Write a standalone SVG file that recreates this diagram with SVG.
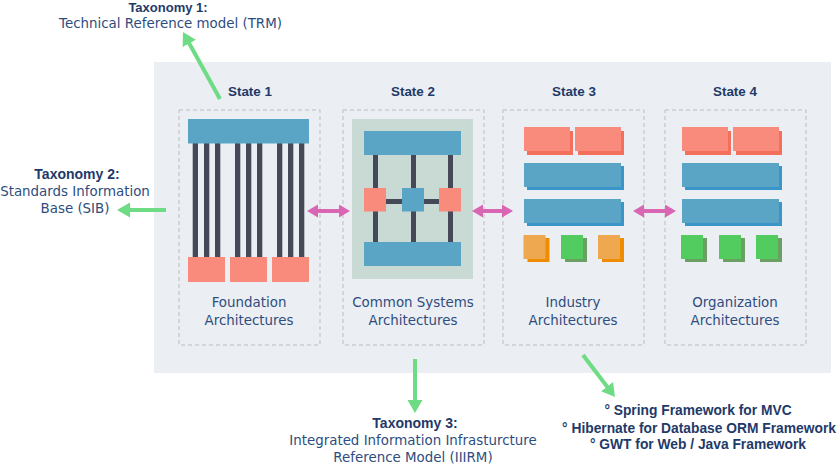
<svg xmlns="http://www.w3.org/2000/svg" width="840" height="466" viewBox="0 0 840 466">
<style>
.bold{font-family:"Liberation Sans",Arial,sans-serif;font-weight:bold;fill:#1f3a68;text-anchor:middle}
.reg{font-family:"DejaVu Sans",sans-serif;font-size:13.4px;fill:#2e4d7e;text-anchor:middle}
.frame{fill:none;stroke:#bdbdbd;stroke-width:1;stroke-dasharray:4 3}
.blue{fill:#5aa5c6}
.blueS{fill:#3a96c9}
.dark{fill:#454857}
.salmon{fill:#f88b7c}
.salmonS{fill:#f4705c}
.orange{fill:#eda850}
.orangeS{fill:#ef8c00}
.green{fill:#52cc5e}
.greenS{fill:#6aa062}
.garrow{stroke:#6edc84;stroke-width:4;fill:none}
.parrow{stroke:#d966b2;stroke-width:4;fill:none}
</style>
<defs>
<marker id="gHead" markerUnits="userSpaceOnUse" markerWidth="14" markerHeight="16" refX="3" refY="7.5" orient="auto">
<path d="M0,0 L13,7.5 L0,15 z" fill="#6edc84"/>
</marker>
<marker id="pHead" markerUnits="userSpaceOnUse" markerWidth="12" markerHeight="14" refX="2" refY="6.5" orient="auto-start-reverse">
<path d="M0,0 L11,6.5 L0,13 z" fill="#d966b2"/>
</marker>
</defs>
<rect x="0" y="0" width="840" height="466" fill="#ffffff"/>
<rect id="panel" x="154" y="62" width="677" height="311" fill="#ebeef2"/>

<g id="state1">
<rect class="frame" x="179" y="110" width="141" height="235"/>
<text class="bold" x="250" y="96" font-size="13.4">State 1</text>
<rect class="dark" x="192.7" y="143" width="5.3" height="114"/>
<rect class="dark" x="204" y="143" width="5.3" height="114"/>
<rect class="dark" x="215" y="143" width="5.3" height="114"/>
<rect class="dark" x="235" y="143" width="5.3" height="114"/>
<rect class="dark" x="246" y="143" width="5.3" height="114"/>
<rect class="dark" x="257" y="143" width="5.3" height="114"/>
<rect class="dark" x="277" y="143" width="5.3" height="114"/>
<rect class="dark" x="288" y="143" width="5.3" height="114"/>
<rect class="dark" x="299" y="143" width="5.3" height="114"/>
<rect class="blue" x="188" y="119" width="121" height="24.5"/>
<rect class="salmon" x="188" y="257" width="37" height="25"/>
<rect class="salmon" x="230" y="257" width="37" height="25"/>
<rect class="salmon" x="272" y="257" width="37" height="25"/>
<text class="reg" x="249" y="307">Foundation</text>
<text class="reg" x="249" y="324.5">Architectures</text>
</g>

<g id="state2">
<rect class="frame" x="343" y="110" width="141" height="235"/>
<text class="bold" x="413" y="96" font-size="13.4">State 2</text>
<rect x="352" y="119" width="121" height="160" fill="#c9d9d3"/>
<rect class="dark" x="373" y="155" width="5" height="87"/>
<rect class="dark" x="411" y="155" width="5" height="87"/>
<rect class="dark" x="448" y="155" width="5" height="87"/>
<rect class="dark" x="385" y="199" width="54" height="5"/>
<rect class="blue" x="364" y="131" width="97" height="24"/>
<rect class="blue" x="364" y="242" width="97" height="24"/>
<rect class="salmon" x="364" y="188" width="22" height="23.5"/>
<rect class="blue" x="402" y="188" width="22" height="23.5"/>
<rect class="salmon" x="439" y="188" width="22" height="23.5"/>
<text class="reg" x="413" y="307">Common Systems</text>
<text class="reg" x="413" y="324.5">Architectures</text>
</g>

<g id="state3">
<rect class="frame" x="503" y="110" width="141" height="235"/>
<text class="bold" x="574" y="96" font-size="13.4">State 3</text>
<rect class="salmonS" x="527" y="131" width="46" height="24"/>
<rect class="salmon" x="524" y="127" width="46" height="24"/>
<rect class="salmonS" x="578" y="131" width="46" height="24"/>
<rect class="salmon" x="575" y="127" width="46" height="24"/>
<rect class="blueS" x="527" y="166" width="97" height="24"/>
<rect class="blue" x="524" y="163" width="97" height="24"/>
<rect class="blueS" x="527" y="202" width="97" height="24"/>
<rect class="blue" x="524" y="199" width="97" height="24"/>
<rect class="orangeS" x="527.5" y="238" width="22" height="24"/>
<rect class="orange" x="523.5" y="235" width="22" height="24"/>
<rect class="greenS" x="565" y="238" width="22" height="24"/>
<rect class="green" x="561" y="235" width="22" height="24"/>
<rect class="orangeS" x="602" y="238" width="22" height="24"/>
<rect class="orange" x="598" y="235" width="22" height="24"/>
<text class="reg" x="573" y="307">Industry</text>
<text class="reg" x="573" y="324.5">Architectures</text>
</g>

<g id="state4">
<rect class="frame" x="665" y="110" width="141" height="235"/>
<text class="bold" x="735" y="96" font-size="13.4">State 4</text>
<rect class="salmonS" x="685" y="131" width="46" height="24"/>
<rect class="salmon" x="682" y="127" width="46" height="24"/>
<rect class="salmonS" x="736" y="131" width="46" height="24"/>
<rect class="salmon" x="733" y="127" width="46" height="24"/>
<rect class="blueS" x="685" y="166" width="97" height="24"/>
<rect class="blue" x="682" y="163" width="97" height="24"/>
<rect class="blueS" x="685" y="202" width="97" height="24"/>
<rect class="blue" x="682" y="199" width="97" height="24"/>
<rect class="greenS" x="685" y="238" width="22" height="24"/>
<rect class="green" x="681" y="235" width="22" height="24"/>
<rect class="greenS" x="723" y="238" width="22" height="24"/>
<rect class="green" x="719" y="235" width="22" height="24"/>
<rect class="greenS" x="760" y="238" width="22" height="24"/>
<rect class="green" x="756" y="235" width="22" height="24"/>
<text class="reg" x="735" y="307">Organization</text>
<text class="reg" x="735" y="324.5">Architectures</text>
</g>

<g id="taxonomy1">
<text class="bold" x="168" y="11.5" font-size="13">Taxonomy 1:</text>
<text class="reg" x="170.5" y="27.5">Technical Reference model (TRM)</text>
</g>
<g id="taxonomy2">
<text class="bold" x="77" y="179" font-size="14">Taxonomy 2:</text>
<text class="reg" x="75" y="195.5">Standards Information</text>
<text class="reg" x="75" y="213">Base (SIB)</text>
</g>
<g id="taxonomy3">
<text class="bold" x="415" y="428" font-size="14">Taxonomy 3:</text>
<text class="reg" x="413" y="445">Integrated Information Infrasturcture</text>
<text class="reg" x="413" y="461.5">Reference Model (IIIRM)</text>
</g>
<g id="frameworks">
<text class="bold" x="698" y="415" font-size="13.8">° Spring Framework for MVC</text>
<text class="bold" x="699" y="432.5" font-size="13.8">° Hibernate for Database ORM Framework</text>
<text class="bold" x="698" y="449" font-size="13.8">° GWT for Web / Java Framework</text>
</g>

<g id="connectors">
<line class="garrow" x1="220" y1="99" x2="187.8" y2="40.8" marker-end="url(#gHead)"/>
<line class="garrow" x1="166" y1="210" x2="127" y2="210" marker-end="url(#gHead)"/>
<line class="garrow" x1="415" y1="359" x2="415" y2="403" marker-end="url(#gHead)"/>
<line class="garrow" x1="583" y1="355" x2="608.9" y2="389" marker-end="url(#gHead)"/>
<line class="parrow" x1="316" y1="211" x2="341" y2="211" marker-start="url(#pHead)" marker-end="url(#pHead)"/>
<line class="parrow" x1="481" y1="211" x2="504" y2="211" marker-start="url(#pHead)" marker-end="url(#pHead)"/>
<line class="parrow" x1="642" y1="211" x2="667" y2="211" marker-start="url(#pHead)" marker-end="url(#pHead)"/>
</g>
</svg>
